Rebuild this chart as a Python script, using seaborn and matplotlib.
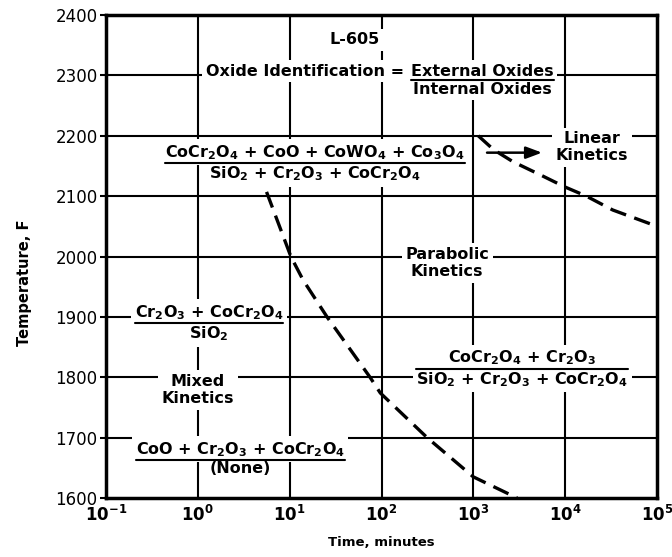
import numpy as np
import pandas as pd
import matplotlib
matplotlib.use("Agg")
import matplotlib.pyplot as plt
import seaborn as sns
from matplotlib.ticker import FixedLocator, FixedFormatter

# Boundary between mixed and parabolic kinetics (time in minutes, temperature in F)
mixed_time = [5.6, 10.3, 14, 25.5, 75, 97, 314, 1000, 3000]
mixed_temp = [2107, 2000, 1961, 1900, 1800, 1774, 1700, 1635, 1600]

# Boundary between parabolic and linear kinetics
linear_time = [1130, 1660, 2700, 5400, 10000, 17000, 33000, 100000]
linear_temp = [2200, 2177, 2157, 2135, 2115, 2100, 2077, 2050]

x_ticks = [1e-1, 1e0, 1e1, 1e2, 1e3, 1e4, 1e5]
x_tick_labels = [r"$10^{-1}$", r"$10^{0}$", r"$10^{1}$", r"$10^{2}$",
                 r"$10^{3}$", r"$10^{4}$", r"$10^{5}$"]
y_ticks = [1600, 1700, 1800, 1900, 2000, 2100, 2200, 2300, 2400]

sns.set_theme(style="white")
plt.rcParams["font.family"] = ["DejaVu Sans"]
plt.rcParams["text.color"] = "black"
plt.rcParams["axes.labelcolor"] = "black"
plt.rcParams["xtick.color"] = "black"
plt.rcParams["ytick.color"] = "black"
plt.rcParams["mathtext.fontset"] = "custom"
plt.rcParams["mathtext.rm"] = "DejaVu Sans:bold"
plt.rcParams["mathtext.it"] = "DejaVu Sans:bold"
plt.rcParams["mathtext.bf"] = "DejaVu Sans:bold"

fig = plt.figure(figsize=(6.72, 5.57), dpi=100)
ax = fig.add_axes([106 / 672, 1 - 498 / 557, 551 / 672, 483 / 557])
ax.set_xscale("log")
ax.set_xlim(1e-1, 1e5)
ax.set_ylim(1600, 2400)

# grid
for xv in x_ticks[1:-1]:
    ax.axvline(xv, color="black", lw=1.5, zorder=1)
for yv in y_ticks[1:-1]:
    ax.axhline(yv, color="black", lw=1.5, zorder=1)

for s in ax.spines.values():
    s.set_color("black")
    s.set_linewidth(2.5)

ax.xaxis.set_major_locator(FixedLocator(x_ticks))
ax.xaxis.set_major_formatter(FixedFormatter(x_tick_labels))
ax.xaxis.set_minor_locator(FixedLocator([]))
ax.set_yticks(y_ticks)
ax.tick_params(axis="x", length=0, labelsize=12, pad=5, colors="black")
ax.tick_params(axis="y", length=4, width=1.5, direction="out", left=True,
               labelsize=12, pad=2, colors="black")

ax.set_xlabel("Time, minutes", fontsize=9.5, fontweight="bold", labelpad=8,
              color="black")
ax.set_ylabel("Temperature, F", fontsize=10.5, fontweight="bold",
              color="black")
ax.yaxis.set_label_coords(-0.135, 0.445)

# dashed boundary curves
dash_kw = dict(color="black", lw=2.4, zorder=6, legend=False)
sns.lineplot(x=mixed_time, y=mixed_temp, ax=ax, sort=False, **dash_kw)
sns.lineplot(x=linear_time, y=linear_temp, ax=ax, sort=False, **dash_kw)
for ln in ax.get_lines()[-2:]:
    ln.set_dashes((5, 2.6))

FS = 11.5
box = dict(facecolor="white", edgecolor="none", pad=2.5)
text_kw = dict(fontsize=FS, fontweight="bold", color="black", zorder=3, bbox=box)

ax.text(51.5, 2359, "L-605", ha="center", va="center", **text_kw)
ax.text(1.0, 1779, "Mixed\nKinetics", ha="center", va="center",
        linespacing=1.2, **text_kw)
ax.text(519, 1989, "Parabolic\nKinetics", ha="center", va="center",
        linespacing=1.2, **text_kw)
ax.text(19700, 2181, "Linear\nKinetics", ha="center", va="center",
        linespacing=1.2, **text_kw)

fractions = []


def fraction(x, y, num, den):
    t1 = ax.annotate(num, (x, y), xytext=(0, 1.0), textcoords="offset points",
                     ha="center", va="bottom", **text_kw)
    t2 = ax.annotate(den, (x, y), xytext=(0, -1.0), textcoords="offset points",
                     ha="center", va="top", **text_kw)
    fractions.append((x, y, t1, t2))
    return t1


fraction(1250, 2292, "External Oxides", "Internal Oxides")
ax.annotate("Oxide Identification =", (176, 2292), xytext=(0, 1.0),
            textcoords="offset points", ha="right", va="bottom", **text_kw)
fraction(18.9, 2155,
         r"CoCr$_2$O$_4$ + CoO + CoWO$_4$ + Co$_3$O$_4$",
         r"SiO$_2$ + Cr$_2$O$_3$ + CoCr$_2$O$_4$")
fraction(1.32, 1890, r"Cr$_2$O$_3$ + CoCr$_2$O$_4$", r"SiO$_2$")
fraction(2.89, 1663, r"CoO + Cr$_2$O$_3$ + CoCr$_2$O$_4$", "(None)")
fraction(3400, 1814, r"CoCr$_2$O$_4$ + Cr$_2$O$_3$",
         r"SiO$_2$ + Cr$_2$O$_3$ + CoCr$_2$O$_4$")

ax.annotate("", xy=(5600, 2172), xytext=(1410, 2172),
            arrowprops=dict(arrowstyle="-|>,head_length=0.8,head_width=0.3",
                            color="black", lw=1.8, shrinkA=0, shrinkB=0),
            zorder=7)

# fraction bars sized to the wider of numerator and denominator
fig.canvas.draw()
renderer = fig.canvas.get_renderer()
inv = ax.transData.inverted()
for x, y, t1, t2 in fractions:
    w = max(t1.get_window_extent(renderer).width,
            t2.get_window_extent(renderer).width)
    cx, cy = ax.transData.transform((x, y))
    (x0, _), (x1, _) = inv.transform([(cx - w / 2, cy), (cx + w / 2, cy)])
    ax.plot([x0, x1], [y, y], color="black", lw=1.5, zorder=4)

fig.savefig("out.png", dpi=100)
